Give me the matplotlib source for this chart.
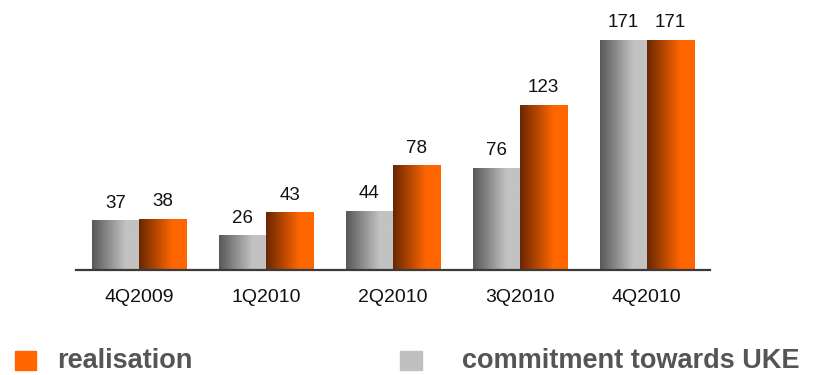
import numpy as np
import matplotlib
matplotlib.use('Agg')
import matplotlib.pyplot as plt
from matplotlib.colors import LinearSegmentedColormap
from matplotlib.patches import Rectangle

quarters = ['4Q2009', '1Q2010', '2Q2010', '3Q2010', '4Q2010']
commitment = [37, 26, 44, 76, 171]
realisation = [38, 43, 78, 123, 171]

plt.rcParams['font.family'] = ['Liberation Sans', 'DejaVu Sans']

gray_cmap = LinearSegmentedColormap.from_list('gray_bar', ['#585858', '#c2c2c2'])
orange_cmap = LinearSegmentedColormap.from_list('orange_bar', ['#6a2700', '#ff6600'])

fig = plt.figure(figsize=(8.19, 3.75), dpi=100)
ax = fig.add_axes([76 / 819, 105 / 375, 634 / 819, 255.6 / 375])

x = np.arange(len(quarters))
w = 0.371

# left-to-right shading: ramps up over the first 70% of the bar, then flat
ramp = np.clip(np.linspace(0, 1, 200) / 0.7, 0, 1).reshape(1, -1)


def shaded_bars(xpos, values, cmap):
    bars = ax.bar(xpos, values, width=w, color='none', edgecolor='none')
    for rect, v in zip(bars, values):
        x0 = rect.get_x()
        img = ax.imshow(ramp, cmap=cmap, vmin=0, vmax=1, aspect='auto',
                        extent=[x0, x0 + rect.get_width(), 0, rect.get_height()],
                        interpolation='bilinear', zorder=2)
        img.set_clip_path(rect)
        ax.annotate(str(v), (rect.get_x() + rect.get_width() / 2, v),
                    xytext=(0, 9), textcoords='offset points',
                    ha='center', va='baseline', fontsize=13.5, color='#111111')
    return bars


shaded_bars(x - w / 2, commitment, gray_cmap)
shaded_bars(x + w / 2, realisation, orange_cmap)

ax.set_xlim(-0.5, 4.5)
ax.set_ylim(0, 190)
ax.set_xticks(x)
ax.set_xticklabels(quarters, fontsize=14, color='#111111')
ax.tick_params(axis='x', length=0, pad=13.5)
ax.set_yticks([])
for side in ['top', 'left', 'right']:
    ax.spines[side].set_visible(False)
ax.spines['bottom'].set_color('#3a3a3a')
ax.spines['bottom'].set_linewidth(1.6)
ax.spines['bottom'].set_zorder(3)

# legend row along the bottom edge
fig.add_artist(Rectangle((15 / 819, 5 / 375), 21 / 819, 19 / 375,
                         transform=fig.transFigure, color='#ff6600'))
fig.text(57 / 819, 1 / 375, 'realisation', fontsize=19.5, fontweight='bold',
         color='#555555', va='bottom', ha='left')
fig.add_artist(Rectangle((400 / 819, 5 / 375), 22 / 819, 19 / 375,
                         transform=fig.transFigure, color='#c0c0c0'))
fig.text(462 / 819, 1 / 375, 'commitment towards UKE', fontsize=19.5,
         fontweight='bold', color='#555555', va='bottom', ha='left')

fig.savefig('out.png', dpi=100)
